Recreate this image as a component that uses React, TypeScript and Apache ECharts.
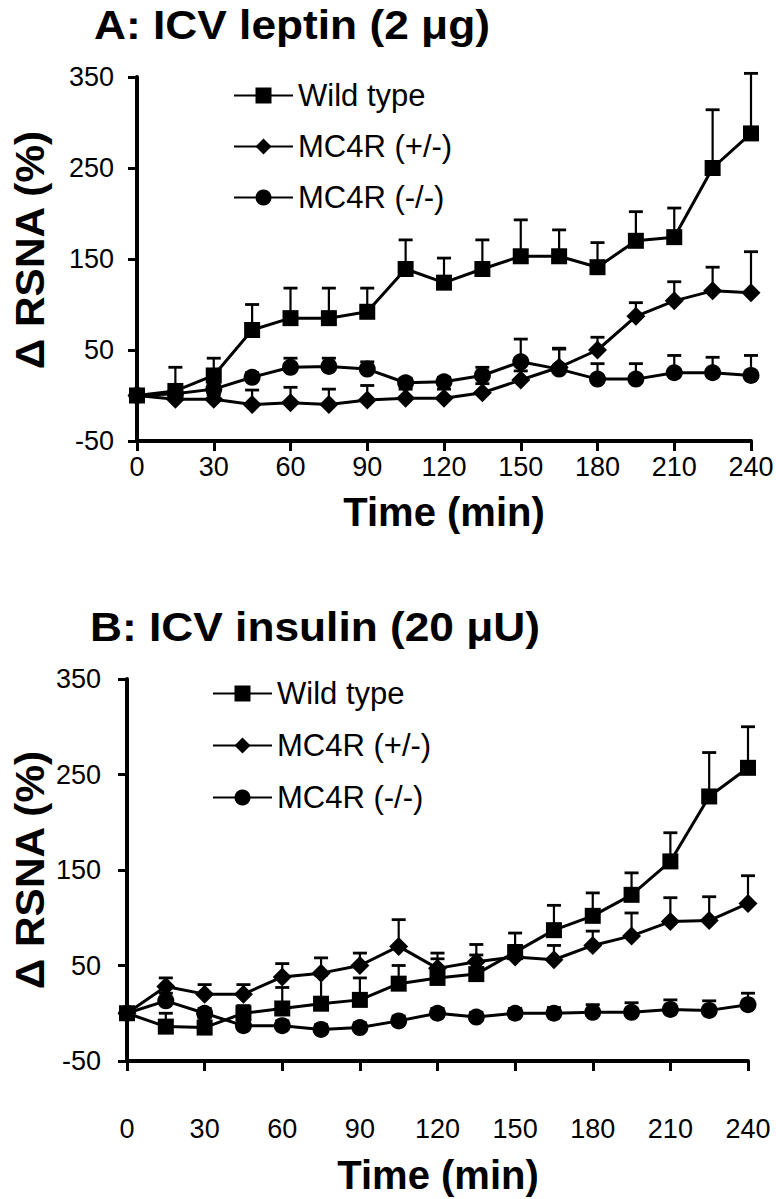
import React, { useEffect, useRef } from "react";
import * as echarts from "echarts";

// ---- data ----
const times = [0, 15, 30, 45, 60, 75, 90, 105, 120, 135, 150, 165, 180, 195, 210, 225, 240];
const seriesNames = ["Wild type", "MC4R (+/-)", "MC4R (-/-)"];

// Panel A: ICV leptin
const leptinWT = [0, 5, 22, 72, 85, 85, 92, 139, 124, 139, 153, 153, 141, 170, 174, 250, 288];
const leptinWTse = [3, 26, 19, 28, 33, 33, 26, 32, 27, 32, 40, 29, 27, 32, 32, 64, 66];
const leptinHet = [0, -4, -4, -10, -8, -10, -5, -3, -3, 3, 17, 31, 50, 87, 104, 115, 113];
const leptinHetSe = [3, 5, 5, 16, 17, 17, 16, 10, 10, 10, 10, 20, 14, 15, 21, 26, 45];
const leptinKO = [0, 2, 7, 20, 31, 32, 29, 14, 15, 22, 37, 29, 18, 18, 25, 25, 22];
const leptinKOse = [3, 3, 5, 5, 10, 9, 8, 5, 5, 9, 25, 23, 17, 17, 19, 17, 22];

// Panel B: ICV insulin
const insulinWT = [0, -14, -15, 0, 5, 10, 14, 31, 37, 41, 64, 87, 102, 124, 159, 227, 257];
const insulinWTse = [3, 14, 10, 8, 22, 30, 23, 19, 20, 20, 20, 26, 24, 23, 30, 46, 43];
const insulinHet = [0, 28, 20, 20, 38, 42, 50, 70, 47, 54, 59, 56, 71, 81, 96, 97, 115];
const insulinHetSe = [3, 9, 10, 10, 14, 16, 13, 28, 16, 18, 12, 15, 15, 24, 25, 25, 29];
const insulinKO = [0, 13, 0, -13, -13, -17, -15, -8, 0, -4, 0, 0, 1, 1, 4, 3, 9];
const insulinKOse = [3, 8, 5, 5, 5, 5, 5, 5, 5, 5, 5, 6, 8, 10, 10, 10, 12];

const titleA = "A: ICV leptin (2 μg)";
const titleB = "B: ICV insulin (20 μU)";
const yName = "Δ RSNA (%)";
const xName = "Time (min)";

const FONT = '"Liberation Sans", Arial, Helvetica, sans-serif';

const symbols = ["rect", "diamond", "circle"];
const symbolSizes = [16, 19, 17];

function lineSeries(name: string, vals: number[], idx: number, gi: number) {
  return {
    type: "line",
    name,
    xAxisIndex: gi,
    yAxisIndex: gi,
    data: times.map((t, i) => [t, vals[i]]),
    symbol: symbols[idx],
    symbolSize: symbolSizes[idx],
    showAllSymbol: true,
    lineStyle: { color: "#000", width: 3 },
    itemStyle: { color: "#000", borderWidth: 0 },
    z: 3 + idx,
    silent: true,
  };
}

function errSeries(name: string, vals: number[], se: number[], gi: number) {
  return {
    type: "custom",
    name: name + " SE " + gi,
    xAxisIndex: gi,
    yAxisIndex: gi,
    encode: { x: 0, y: 1 },
    data: times.map((t, i) => [t, vals[i], vals[i] + se[i]]),
    renderItem: (params: any, api: any) => {
      const p0 = api.coord([api.value(0), api.value(1)]);
      const p1 = api.coord([api.value(0), api.value(2)]);
      const hw = 7;
      return {
        type: "group",
        children: [
          { type: "line", shape: { x1: p0[0], y1: p0[1], x2: p1[0], y2: p1[1] }, style: { stroke: "#000", lineWidth: 2.2 } },
          { type: "line", shape: { x1: p1[0] - hw, y1: p1[1], x2: p1[0] + hw, y2: p1[1] }, style: { stroke: "#000", lineWidth: 2.8 } },
        ],
      };
    },
    z: 2,
    silent: true,
  };
}

function xAxisCfg(gi: number, margin: number) {
  return {
    gridIndex: gi,
    type: "value",
    min: 0,
    max: 240,
    interval: 30,
    axisLine: { show: true, onZero: false, lineStyle: { color: "#000", width: 4 } },
    axisTick: { show: true, length: 10, lineStyle: { color: "#000", width: 3 } },
    axisLabel: { margin, fontSize: 27, color: "#000", fontFamily: FONT },
    splitLine: { show: false },
  };
}

function yAxisCfg(gi: number, margin: number) {
  return {
    gridIndex: gi,
    type: "value",
    min: -50,
    max: 350,
    interval: 100,
    axisLine: { show: true, onZero: false, lineStyle: { color: "#000", width: 4 } },
    axisTick: { show: true, length: 9, lineStyle: { color: "#000", width: 3 } },
    axisLabel: { margin, fontSize: 27, color: "#000", fontFamily: FONT },
    splitLine: { show: false },
  };
}

function legendCfg(left: number, top: number, gap: number) {
  return {
    data: seriesNames,
    orient: "vertical",
    left,
    top,
    itemWidth: 59,
    itemHeight: 20,
    itemGap: gap,
    selectedMode: false,
    textStyle: { fontSize: 31, color: "#000", fontFamily: FONT },
  };
}

export default function App() {
  const ref = useRef<HTMLDivElement>(null);
  useEffect(() => {
    if (!ref.current) return;
    const chart = echarts.init(ref.current, null, { renderer: "svg" });
    const option: any = {
      animation: false,
      backgroundColor: "#fff",
      grid: [
        { left: 137, top: 77, width: 614, height: 364, containLabel: false, outerBoundsMode: "none" },
        { left: 127, top: 679, width: 621, height: 382, containLabel: false, outerBoundsMode: "none" },
      ],
      xAxis: [xAxisCfg(0, 12), xAxisCfg(1, 54)],
      yAxis: [yAxisCfg(0, 23), yAxisCfg(1, 26)],
      legend: [legendCfg(228, 75, 20), legendCfg(207, 673, 21)],
      series: [
        errSeries(seriesNames[0], leptinWT, leptinWTse, 0),
        errSeries(seriesNames[1], leptinHet, leptinHetSe, 0),
        errSeries(seriesNames[2], leptinKO, leptinKOse, 0),
        lineSeries(seriesNames[0], leptinWT, 0, 0),
        lineSeries(seriesNames[1], leptinHet, 1, 0),
        lineSeries(seriesNames[2], leptinKO, 2, 0),
        errSeries(seriesNames[0], insulinWT, insulinWTse, 1),
        errSeries(seriesNames[1], insulinHet, insulinHetSe, 1),
        errSeries(seriesNames[2], insulinKO, insulinKOse, 1),
        lineSeries(seriesNames[0], insulinWT, 0, 1),
        lineSeries(seriesNames[1], insulinHet, 1, 1),
        lineSeries(seriesNames[2], insulinKO, 2, 1),
      ],
      graphic: [
        {
          type: "text", x: 94, y: 25, scaleX: 1.08,
          style: { text: titleA, fontSize: 41, fontWeight: "bold", fontFamily: FONT, fill: "#000", align: "left", verticalAlign: "middle" },
        },
        {
          type: "text", x: 90, y: 627, scaleX: 1.08,
          style: { text: titleB, fontSize: 41, fontWeight: "bold", fontFamily: FONT, fill: "#000", align: "left", verticalAlign: "middle" },
        },
        {
          type: "text", x: 30, y: 250, rotation: Math.PI / 2, scaleX: 1.06,
          style: { text: yName, fontSize: 40, fontWeight: "bold", fontFamily: FONT, fill: "#000", align: "center", verticalAlign: "middle" },
        },
        {
          type: "text", x: 30, y: 870, rotation: Math.PI / 2, scaleX: 1.06,
          style: { text: yName, fontSize: 40, fontWeight: "bold", fontFamily: FONT, fill: "#000", align: "center", verticalAlign: "middle" },
        },
        {
          type: "text", x: 444, y: 512,
          style: { text: xName, fontSize: 40, fontWeight: "bold", fontFamily: FONT, fill: "#000", align: "center", verticalAlign: "middle" },
        },
        {
          type: "text", x: 438, y: 1175,
          style: { text: xName, fontSize: 40, fontWeight: "bold", fontFamily: FONT, fill: "#000", align: "center", verticalAlign: "middle" },
        },
      ],
    };
    chart.setOption(option);
    return () => chart.dispose();
  }, []);
  return (
    <div
      ref={ref}
      style={{ position: "absolute", left: 0, top: 0, width: 776, height: 1199, background: "#fff" }}
    />
  );
}
